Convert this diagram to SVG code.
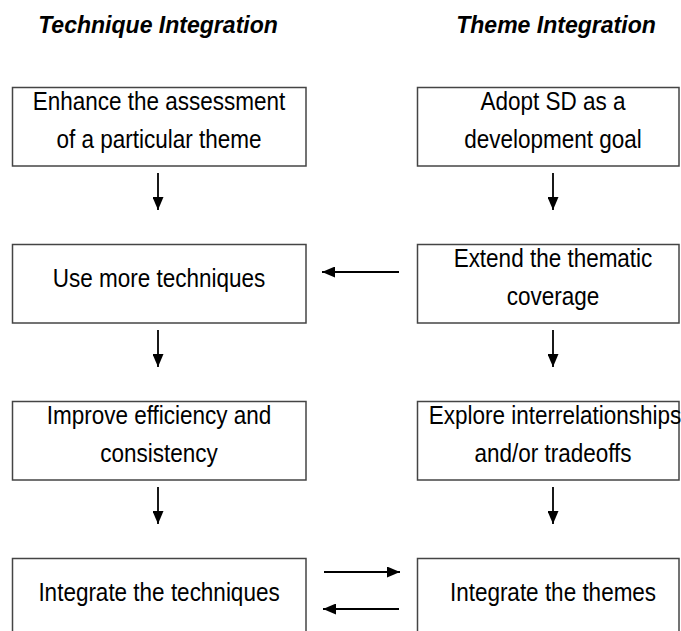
<svg xmlns="http://www.w3.org/2000/svg" width="681" height="631" viewBox="0 0 681 631">
  <defs>
    <marker id="head" viewBox="0 0 13 11" refX="13" refY="5.5" markerWidth="13" markerHeight="11" markerUnits="userSpaceOnUse" orient="auto">
      <path d="M0,0 L13,5.5 L0,11 z" fill="#000"/>
    </marker>
    <style>
      .box { fill: #fff; stroke: #444; stroke-width: 1.5; }
      .lbl { font-family: "Liberation Sans", Arial, sans-serif; font-size: 25px; fill: #000; text-anchor: middle; }
      .head { font-family: "Liberation Sans", Arial, sans-serif; font-size: 24px; font-weight: bold; font-style: italic; fill: #000; text-anchor: middle; }
      .arrow { stroke: #000; stroke-width: 1.8; fill: none; marker-end: url(#head); }
    </style>
  </defs>
  <rect width="681" height="631" fill="#fff"/>

  <!-- column headings (slightly condensed) -->
  <text class="head" transform="translate(158 33) scale(0.96 1)">Technique Integration</text>
  <text class="head" transform="translate(556 33) scale(0.96 1)">Theme Integration</text>

  <!-- technique column -->
  <g id="enhance">
    <rect class="box" x="12.5" y="87.5" width="293.5" height="78.5"/>
    <text class="lbl" transform="translate(159 110) scale(0.9 1)">Enhance the assessment</text>
    <text class="lbl" transform="translate(159 148) scale(0.9 1)">of a particular theme</text>
  </g>
  <g id="use-more">
    <rect class="box" x="12.5" y="244.5" width="293.5" height="78.5"/>
    <text class="lbl" transform="translate(159 287) scale(0.9 1)">Use more techniques</text>
  </g>
  <g id="improve">
    <rect class="box" x="12.5" y="401.5" width="293.5" height="78.5"/>
    <text class="lbl" transform="translate(159 424) scale(0.9 1)">Improve efficiency and</text>
    <text class="lbl" transform="translate(159 462) scale(0.9 1)">consistency</text>
  </g>
  <g id="integrate-techniques">
    <rect class="box" x="12.5" y="558.5" width="293.5" height="90"/>
    <text class="lbl" transform="translate(159 601) scale(0.9 1)">Integrate the techniques</text>
  </g>

  <!-- theme column -->
  <g id="adopt">
    <rect class="box" x="417.5" y="87.5" width="261.5" height="78.5"/>
    <text class="lbl" transform="translate(553 110) scale(0.9 1)">Adopt SD as a</text>
    <text class="lbl" transform="translate(553 148) scale(0.9 1)">development goal</text>
  </g>
  <g id="extend">
    <rect class="box" x="417.5" y="244.5" width="261.5" height="78.5"/>
    <text class="lbl" transform="translate(553 267) scale(0.9 1)">Extend the thematic</text>
    <text class="lbl" transform="translate(553 305) scale(0.9 1)">coverage</text>
  </g>
  <g id="explore">
    <rect class="box" x="417.5" y="401.5" width="261.5" height="78.5"/>
    <text class="lbl" transform="translate(555 424) scale(0.9 1)">Explore interrelationships</text>
    <text class="lbl" transform="translate(553 462) scale(0.9 1)">and/or tradeoffs</text>
  </g>
  <g id="integrate-themes">
    <rect class="box" x="417.5" y="558.5" width="261.5" height="90"/>
    <text class="lbl" transform="translate(553 601) scale(0.9 1)">Integrate the themes</text>
  </g>

  <!-- connectors -->
  <g id="connectors">
    <line class="arrow" x1="158" y1="173" x2="158" y2="210"/>
    <line class="arrow" x1="158" y1="330" x2="158" y2="367"/>
    <line class="arrow" x1="158" y1="487" x2="158" y2="524"/>
    <line class="arrow" x1="553" y1="173" x2="553" y2="210"/>
    <line class="arrow" x1="553" y1="330" x2="553" y2="367"/>
    <line class="arrow" x1="553" y1="487" x2="553" y2="524"/>
    <line class="arrow" x1="399" y1="272" x2="322" y2="272"/>
    <line class="arrow" x1="324" y1="572" x2="400" y2="572"/>
    <line class="arrow" x1="399" y1="609" x2="323" y2="609"/>
  </g>
</svg>
